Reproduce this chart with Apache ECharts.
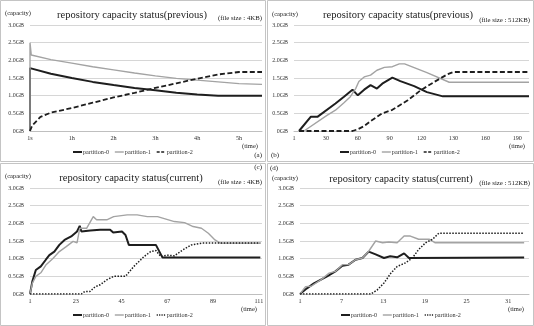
<!DOCTYPE html>
<html>
<head>
<meta charset="utf-8">
<script src="https://cdn.jsdelivr.net/npm/echarts@6/dist/echarts.min.js"></script>
<style>
  html, body { margin: 0; padding: 0; background: #fff; }
  #main { width: 534px; height: 326px; }
</style>
</head>
<body>
<div id="main"></div>
<script>
'use strict';
// y axis tick labels (shared by all four panels)
const yLabels = ['0GB', '0.5GB', '1.0GB', '1.5GB', '2.0GB', '2.5GB', '3.0GB'];

// (a) previous, 4KB  -- x in hours
const xTicksA = [0, 1, 2, 3, 4, 5];
const xLabelsA = ['1s', '1h', '2h', '3h', '4h', '5h'];
const a_p0 = [[0, 0], [0, 1.78], [0.5, 1.62], [1, 1.5], [1.5, 1.39], [2, 1.3], [2.5, 1.22], [3, 1.15], [3.5, 1.08], [4, 1.03], [4.5, 1.0], [5.55, 1.0]];
const a_p1 = [[0, 0], [0, 2.5], [0.03, 2.15], [0.5, 2.02], [1, 1.92], [1.5, 1.82], [2, 1.73], [2.5, 1.64], [3, 1.56], [3.5, 1.49], [4, 1.44], [4.5, 1.39], [5, 1.34], [5.55, 1.32]];
const a_p2 = [[0, 0], [0.05, 0.15], [0.25, 0.4], [0.5, 0.52], [1, 0.65], [1.5, 0.8], [2, 0.95], [2.5, 1.08], [3, 1.22], [3.5, 1.35], [4, 1.48], [4.5, 1.6], [5, 1.67], [5.55, 1.67]];

// (b) previous, 512KB -- tick labels are evenly spaced
const xTicksB = [0, 30, 60, 90, 120, 150, 180, 210];
const xLabelsB = ['1', '30', '60', '90', '120', '130', '160', '190'];
const b_p0 = [[4.7, 0], [15.7, 0.4], [22, 0.4], [39, 0.78], [47, 0.97], [55, 1.17], [60, 1.01], [66, 1.17], [72, 1.3], [78, 1.2], [83, 1.34], [92.5, 1.51], [100, 1.41], [113, 1.27], [125, 1.1], [140, 0.98], [221, 0.98]];
const b_p1 = [[9.4, 0], [31, 0.44], [39, 0.59], [47, 0.8], [53, 0.97], [58, 1.2], [61, 1.4], [66, 1.53], [72, 1.58], [78, 1.72], [85, 1.8], [92.5, 1.82], [99, 1.9], [104, 1.9], [125, 1.65], [146, 1.38], [221, 1.38]];
const b_p2 = [[4.7, 0], [55, 0], [60, 0.05], [66, 0.14], [72, 0.28], [83, 0.5], [92.5, 0.6], [107, 0.87], [119, 1.15], [132, 1.39], [144, 1.6], [150, 1.67], [221, 1.67]];

// (c) current, 4KB
const xTicksC = [1, 23, 45, 67, 89, 111];
const c_p0 = [[1, 0], [2.1, 0.35], [3.8, 0.68], [6.2, 0.78], [8.6, 0.97], [10.3, 1.1], [12.7, 1.2], [15.1, 1.39], [17.6, 1.53], [20.8, 1.63], [23.6, 1.77], [24.9, 1.93], [25.7, 1.77], [30, 1.8], [34.7, 1.82], [39.5, 1.82], [41, 1.74], [45.2, 1.77], [46.9, 1.67], [48.5, 1.39], [61.5, 1.39], [64.7, 1.03], [111.7, 1.03]];
const c_p1 = [[1, 0], [2.1, 0.3], [3.8, 0.5], [6.2, 0.6], [8.6, 0.82], [11.9, 1.0], [15.1, 1.2], [18.4, 1.34], [21.7, 1.49], [23.6, 1.45], [24.9, 1.86], [28.2, 1.86], [31.4, 2.19], [33, 2.1], [37.9, 2.1], [41.2, 2.19], [47.7, 2.24], [52.5, 2.24], [57.4, 2.19], [62.3, 2.19], [70.4, 2.05], [75.3, 2.02], [79.4, 1.91], [83.4, 1.86], [86.7, 1.72], [89.9, 1.53], [92.4, 1.44], [111.7, 1.44]];
const c_p2 = [[1, 0], [25.7, 0], [27.3, 0.07], [29.8, 0.07], [32.2, 0.2], [34.7, 0.26], [37.9, 0.4], [41.2, 0.5], [46.9, 0.5], [50.9, 0.78], [55.8, 1.06], [59, 1.2], [61.5, 1.23], [63.9, 1.06], [67.2, 1.1], [70.4, 1.08], [74.5, 1.25], [78.6, 1.39], [83.4, 1.44], [111.7, 1.44]];

// (d) current, 512KB
const xTicksD = [1, 7, 13, 19, 25, 31];
const d_p0 = [[1, 0], [2, 0.16], [3, 0.3], [4.9, 0.5], [6.1, 0.64], [7.1, 0.8], [8, 0.83], [9, 0.97], [10, 1.02], [10.9, 1.2], [11.9, 1.12], [13.1, 1.02], [14, 1.07], [15, 1.04], [16, 1.15], [16.7, 1.02], [33.3, 1.03]];
const d_p1 = [[1, 0], [1.8, 0.21], [2.6, 0.22], [4, 0.4], [5.2, 0.59], [6.1, 0.64], [7.1, 0.83], [8, 0.83], [9, 0.97], [10, 1.02], [10.9, 1.21], [11.9, 1.5], [12.9, 1.45], [13.8, 1.47], [15, 1.45], [16, 1.64], [16.9, 1.64], [18.1, 1.55], [19.6, 1.55], [20.5, 1.45], [33.3, 1.45]];
const d_p2 = [[1, 0], [11.2, 0], [12.1, 0.11], [13.1, 0.31], [14.1, 0.59], [15, 0.78], [16.2, 0.88], [17.2, 1.02], [18.1, 1.26], [19.1, 1.45], [20.1, 1.55], [21, 1.72], [33.3, 1.72]];

const serif = '"Liberation Serif", "DejaVu Serif", serif';

function xAxisOf(gi, min, max, ticks, labels) {
    return {
        type: 'value',
        gridIndex: gi,
        min: min,
        max: max,
        axisLine: { show: true, onZero: false, lineStyle: { color: '#bfbfbf', width: 1 } },
        axisTick: { show: false },
        splitLine: { show: false },
        axisLabel: {
            customValues: ticks,
            formatter: (v) => labels ? labels[ticks.indexOf(v)] : String(v),
            fontFamily: serif,
            fontSize: 6.2,
            color: '#333',
            margin: 4,
        },
    };
}

function yAxisOf(gi) {
    return {
        type: 'value',
        gridIndex: gi,
        min: 0,
        max: 3,
        interval: 0.5,
        axisLine: { show: false },
        axisTick: { show: false },
        splitLine: { lineStyle: { color: '#d6d6d6', width: 1 } },
        axisLabel: {
            formatter: (v) => yLabels[Math.round(v / 0.5)],
            fontFamily: serif,
            fontSize: 6,
            color: '#333',
            margin: 6,
        },
    };
}

function seriesOf(gi, p0, p1, p2, dash) {
    const base = { type: 'line', xAxisIndex: gi, yAxisIndex: gi, symbol: 'none', animation: false };
    return [
        Object.assign({}, base, { name: 'partition-0', data: p0, lineStyle: { color: '#1e1e1e', width: 2 }, itemStyle: { color: '#1e1e1e' } }),
        Object.assign({}, base, { name: 'partition-1', data: p1, lineStyle: { color: '#a3a3a3', width: 1.4 }, itemStyle: { color: '#a3a3a3' } }),
        Object.assign({}, base, { name: 'partition-2', data: p2, lineStyle: { color: '#1e1e1e', width: dash === 'dash' ? 1.8 : 1.5, type: dash === 'dash' ? [5, 2.5] : [1.5, 1.5] }, itemStyle: { color: '#1e1e1e' } }),
    ];
}

// hide the circle that echarts puts on line legend icons
const noDot = { color: 'rgba(0,0,0,0)', borderWidth: 0, opacity: 0 };

function legendOf(left, top, dash) {
    return {
        left: left,
        top: top,
        padding: 0,
        itemWidth: 9,
        itemHeight: 6,
        itemGap: 5,
        selectedMode: false,
        textStyle: { fontFamily: serif, fontSize: 6.2, color: '#333', padding: [0, 0, 0, -4] },
        data: [
            { name: 'partition-0', itemStyle: noDot, lineStyle: { color: '#1e1e1e', width: 2 } },
            { name: 'partition-1', itemStyle: noDot, lineStyle: { color: '#a3a3a3', width: 1.4 } },
            { name: 'partition-2', itemStyle: noDot, lineStyle: { color: '#1e1e1e', width: 1.5, type: dash === 'dash' ? [3, 1.5] : [1.2, 1.2] } },
        ],
    };
}

function txt(x, y, text, size, align) {
    return {
        type: 'text',
        x: x,
        y: y,
        silent: true,
        style: {
            text: text,
            font: size + 'px ' + serif,
            fill: '#222',
            textAlign: align || 'left',
            textVerticalAlign: 'middle',
        },
    };
}

function box(x, y, w, h) {
    return {
        type: 'rect',
        silent: true,
        z: -10,
        shape: { x: x, y: y, width: w, height: h },
        style: { fill: 'none', stroke: '#c4c4c4', lineWidth: 1 },
    };
}

function init() {
    const chart = echarts.init(document.getElementById('main'), null, { renderer: 'canvas' });
    const option = {
        backgroundColor: '#fff',
        animation: false,
        grid: [
            { left: 30, top: 25, width: 232, height: 106 },
            { left: 294, top: 25, width: 235, height: 106 },
            { left: 30, top: 188, width: 232, height: 106 },
            { left: 300, top: 188, width: 229, height: 106 },
        ],
        xAxis: [
            xAxisOf(0, 0, 5.55, xTicksA, xLabelsA),
            xAxisOf(1, 0, 221, xTicksB, xLabelsB),
            xAxisOf(2, 1, 112.5, xTicksC, null),
            xAxisOf(3, 1, 34, xTicksD, null),
        ],
        yAxis: [yAxisOf(0), yAxisOf(1), yAxisOf(2), yAxisOf(3)],
        legend: [
            legendOf(72, 149, 'dash'),
            legendOf(339, 149, 'dash'),
            legendOf(72, 312, 'dot'),
            legendOf(340, 312, 'dot'),
        ],
        series: [].concat(
            seriesOf(0, a_p0, a_p1, a_p2, 'dash'),
            seriesOf(1, b_p0, b_p1, b_p2, 'dash'),
            seriesOf(2, c_p0, c_p1, c_p2, 'dot'),
            seriesOf(3, d_p0, d_p1, d_p2, 'dot')
        ),
        graphic: [
            box(0.5, 0.5, 265, 161),
            box(267.5, 0.5, 266, 161),
            box(0.5, 163.5, 265, 162),
            box(267.5, 163.5, 266, 162),
            // titles
            txt(132, 15, 'repository capacity status(previous)', 10.5, 'center'),
            txt(398, 15, 'repository capacity status(previous)', 10.5, 'center'),
            txt(131, 178, 'repository capacity status(current)', 10.5, 'center'),
            txt(401, 179, 'repository capacity status(current)', 10.5, 'center'),
            // axis names
            txt(5, 13, '(capacity)', 6.5),
            txt(272, 14, '(capacity)', 6.5),
            txt(5, 176, '(capacity)', 6.5),
            txt(272, 178, '(capacity)', 6.5),
            txt(250, 146, '(time)', 6.5, 'center'),
            txt(517, 146, '(time)', 6.5, 'center'),
            txt(249, 309, '(time)', 6.5, 'center'),
            txt(516, 309, '(time)', 6.5, 'center'),
            // file size notes
            txt(262, 18, '(file size : 4KB)', 6.8, 'right'),
            txt(530, 20, '(file size : 512KB)', 6.8, 'right'),
            txt(262, 182, '(file size : 4KB)', 6.8, 'right'),
            txt(530, 183, '(file size : 512KB)', 6.8, 'right'),
            // panel tags
            txt(262, 155, '(a)', 7, 'right'),
            txt(271, 155, '(b)', 7),
            txt(262, 167, '(c)', 7, 'right'),
            txt(270, 168, '(d)', 7),
        ],
    };
    chart.setOption(option);
    window.addEventListener('resize', () => chart.resize());
}

(function () {
    init();
})();
</script>
</body>
</html>
